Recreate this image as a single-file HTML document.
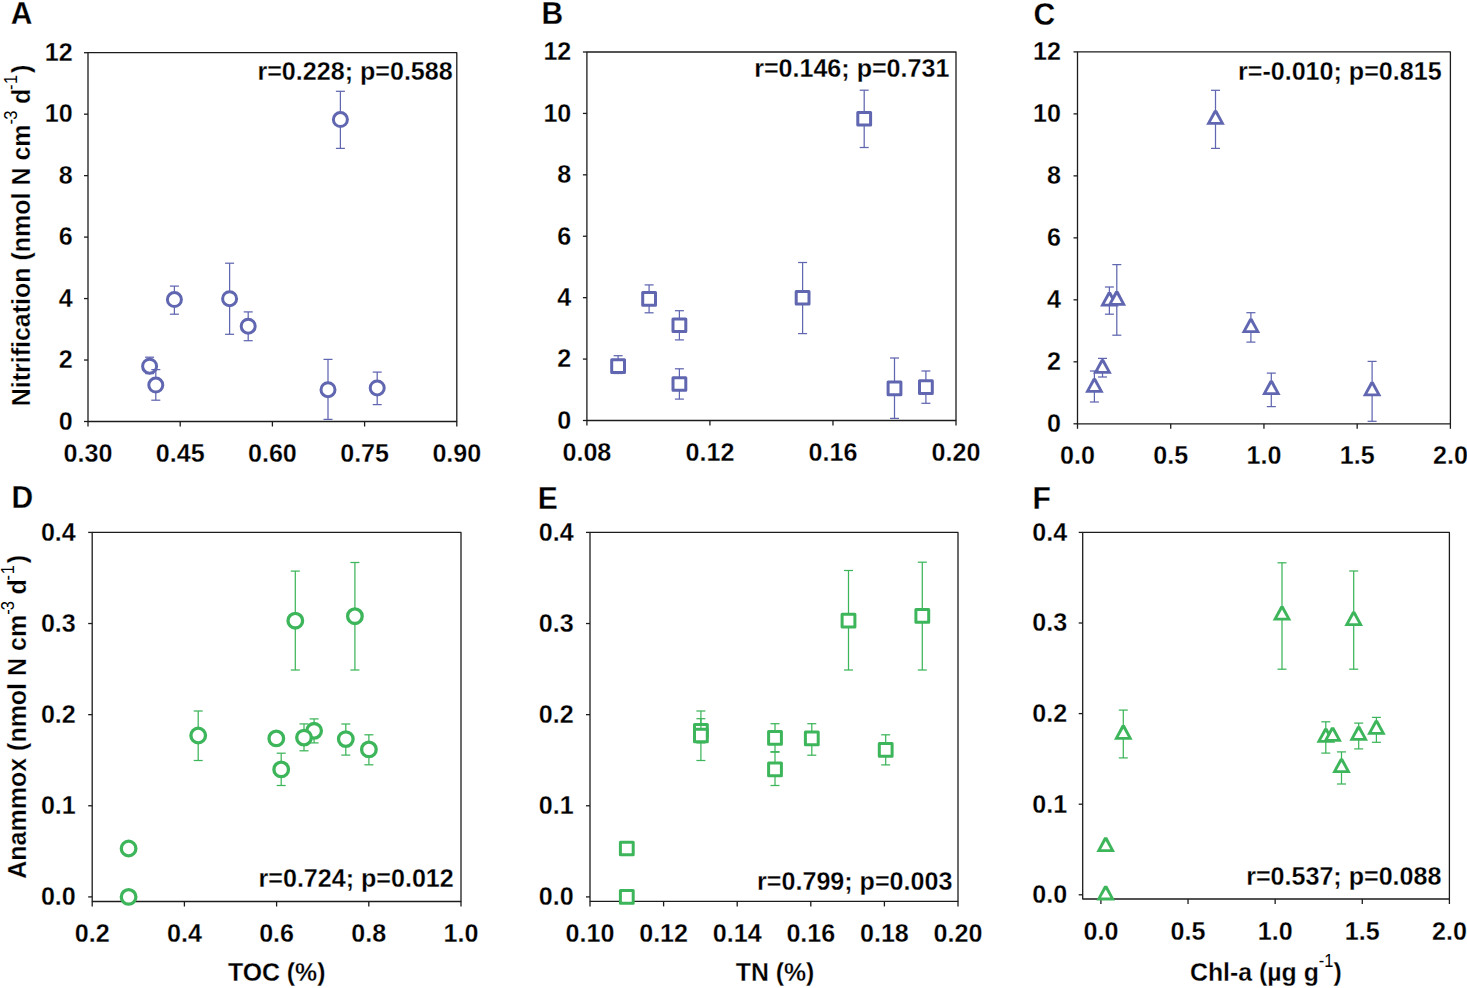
<!DOCTYPE html>
<html><head><meta charset="utf-8"><style>
html,body{margin:0;padding:0;background:#fff;width:1467px;height:988px;overflow:hidden}
svg{display:block;font-family:"Liberation Sans",sans-serif}
text{stroke:#fff;stroke-width:0.25px;paint-order:fill stroke}
</style></head><body>
<svg width="1467" height="988" viewBox="0 0 1467 988" font-family="Liberation Sans">
<rect width="1467" height="988" fill="#fff"/>
<rect x="88" y="52.7" width="368.8" height="368.8" fill="none" stroke="#1c1c1c" stroke-width="1.3" stroke-linejoin="round"/>
<line x1="84" y1="421.5" x2="88" y2="421.5" stroke="#1c1c1c" stroke-width="1.3"/>
<g transform="translate(72.6,429.8) scale(1,1.028)"><text x="0" y="0" font-size="25.1" font-weight="bold" text-anchor="end" fill="#000" >0</text></g>
<line x1="84" y1="360.03" x2="88" y2="360.03" stroke="#1c1c1c" stroke-width="1.3"/>
<g transform="translate(72.6,368.33) scale(1,1.028)"><text x="0" y="0" font-size="25.1" font-weight="bold" text-anchor="end" fill="#000" >2</text></g>
<line x1="84" y1="298.57" x2="88" y2="298.57" stroke="#1c1c1c" stroke-width="1.3"/>
<g transform="translate(72.6,306.87) scale(1,1.028)"><text x="0" y="0" font-size="25.1" font-weight="bold" text-anchor="end" fill="#000" >4</text></g>
<line x1="84" y1="237.1" x2="88" y2="237.1" stroke="#1c1c1c" stroke-width="1.3"/>
<g transform="translate(72.6,245.4) scale(1,1.028)"><text x="0" y="0" font-size="25.1" font-weight="bold" text-anchor="end" fill="#000" >6</text></g>
<line x1="84" y1="175.63" x2="88" y2="175.63" stroke="#1c1c1c" stroke-width="1.3"/>
<g transform="translate(72.6,183.93) scale(1,1.028)"><text x="0" y="0" font-size="25.1" font-weight="bold" text-anchor="end" fill="#000" >8</text></g>
<line x1="84" y1="114.17" x2="88" y2="114.17" stroke="#1c1c1c" stroke-width="1.3"/>
<g transform="translate(72.6,122.47) scale(1,1.028)"><text x="0" y="0" font-size="25.1" font-weight="bold" text-anchor="end" fill="#000" >10</text></g>
<line x1="84" y1="52.7" x2="88" y2="52.7" stroke="#1c1c1c" stroke-width="1.3"/>
<g transform="translate(72.6,61) scale(1,1.028)"><text x="0" y="0" font-size="25.1" font-weight="bold" text-anchor="end" fill="#000" >12</text></g>
<line x1="88" y1="421.5" x2="88" y2="426.5" stroke="#1c1c1c" stroke-width="1.3"/>
<g transform="translate(88,461.8) scale(1,1.028)"><text x="0" y="0" font-size="25.1" font-weight="bold" text-anchor="middle" fill="#000" >0.30</text></g>
<line x1="180.2" y1="421.5" x2="180.2" y2="426.5" stroke="#1c1c1c" stroke-width="1.3"/>
<g transform="translate(180.2,461.8) scale(1,1.028)"><text x="0" y="0" font-size="25.1" font-weight="bold" text-anchor="middle" fill="#000" >0.45</text></g>
<line x1="272.4" y1="421.5" x2="272.4" y2="426.5" stroke="#1c1c1c" stroke-width="1.3"/>
<g transform="translate(272.4,461.8) scale(1,1.028)"><text x="0" y="0" font-size="25.1" font-weight="bold" text-anchor="middle" fill="#000" >0.60</text></g>
<line x1="364.6" y1="421.5" x2="364.6" y2="426.5" stroke="#1c1c1c" stroke-width="1.3"/>
<g transform="translate(364.6,461.8) scale(1,1.028)"><text x="0" y="0" font-size="25.1" font-weight="bold" text-anchor="middle" fill="#000" >0.75</text></g>
<line x1="456.8" y1="421.5" x2="456.8" y2="426.5" stroke="#1c1c1c" stroke-width="1.3"/>
<g transform="translate(456.8,461.8) scale(1,1.028)"><text x="0" y="0" font-size="25.1" font-weight="bold" text-anchor="middle" fill="#000" >0.90</text></g>
<rect x="586.9" y="52" width="369.1" height="368.5" fill="none" stroke="#1c1c1c" stroke-width="1.3" stroke-linejoin="round"/>
<line x1="582.9" y1="420.5" x2="586.9" y2="420.5" stroke="#1c1c1c" stroke-width="1.3"/>
<g transform="translate(571.3,428.8) scale(1,1.028)"><text x="0" y="0" font-size="25.1" font-weight="bold" text-anchor="end" fill="#000" >0</text></g>
<line x1="582.9" y1="359.08" x2="586.9" y2="359.08" stroke="#1c1c1c" stroke-width="1.3"/>
<g transform="translate(571.3,367.38) scale(1,1.028)"><text x="0" y="0" font-size="25.1" font-weight="bold" text-anchor="end" fill="#000" >2</text></g>
<line x1="582.9" y1="297.67" x2="586.9" y2="297.67" stroke="#1c1c1c" stroke-width="1.3"/>
<g transform="translate(571.3,305.97) scale(1,1.028)"><text x="0" y="0" font-size="25.1" font-weight="bold" text-anchor="end" fill="#000" >4</text></g>
<line x1="582.9" y1="236.25" x2="586.9" y2="236.25" stroke="#1c1c1c" stroke-width="1.3"/>
<g transform="translate(571.3,244.55) scale(1,1.028)"><text x="0" y="0" font-size="25.1" font-weight="bold" text-anchor="end" fill="#000" >6</text></g>
<line x1="582.9" y1="174.83" x2="586.9" y2="174.83" stroke="#1c1c1c" stroke-width="1.3"/>
<g transform="translate(571.3,183.13) scale(1,1.028)"><text x="0" y="0" font-size="25.1" font-weight="bold" text-anchor="end" fill="#000" >8</text></g>
<line x1="582.9" y1="113.42" x2="586.9" y2="113.42" stroke="#1c1c1c" stroke-width="1.3"/>
<g transform="translate(571.3,121.72) scale(1,1.028)"><text x="0" y="0" font-size="25.1" font-weight="bold" text-anchor="end" fill="#000" >10</text></g>
<line x1="582.9" y1="52" x2="586.9" y2="52" stroke="#1c1c1c" stroke-width="1.3"/>
<g transform="translate(571.3,60.3) scale(1,1.028)"><text x="0" y="0" font-size="25.1" font-weight="bold" text-anchor="end" fill="#000" >12</text></g>
<line x1="586.9" y1="420.5" x2="586.9" y2="425.5" stroke="#1c1c1c" stroke-width="1.3"/>
<g transform="translate(586.9,461) scale(1,1.028)"><text x="0" y="0" font-size="25.1" font-weight="bold" text-anchor="middle" fill="#000" >0.08</text></g>
<line x1="709.93" y1="420.5" x2="709.93" y2="425.5" stroke="#1c1c1c" stroke-width="1.3"/>
<g transform="translate(709.93,461) scale(1,1.028)"><text x="0" y="0" font-size="25.1" font-weight="bold" text-anchor="middle" fill="#000" >0.12</text></g>
<line x1="832.97" y1="420.5" x2="832.97" y2="425.5" stroke="#1c1c1c" stroke-width="1.3"/>
<g transform="translate(832.97,461) scale(1,1.028)"><text x="0" y="0" font-size="25.1" font-weight="bold" text-anchor="middle" fill="#000" >0.16</text></g>
<line x1="956" y1="420.5" x2="956" y2="425.5" stroke="#1c1c1c" stroke-width="1.3"/>
<g transform="translate(956,461) scale(1,1.028)"><text x="0" y="0" font-size="25.1" font-weight="bold" text-anchor="middle" fill="#000" >0.20</text></g>
<rect x="1077.5" y="51.9" width="372.9" height="371.9" fill="none" stroke="#1c1c1c" stroke-width="1.3" stroke-linejoin="round"/>
<line x1="1073.5" y1="423.8" x2="1077.5" y2="423.8" stroke="#1c1c1c" stroke-width="1.3"/>
<g transform="translate(1060.9,432.1) scale(1,1.028)"><text x="0" y="0" font-size="25.1" font-weight="bold" text-anchor="end" fill="#000" >0</text></g>
<line x1="1073.5" y1="361.82" x2="1077.5" y2="361.82" stroke="#1c1c1c" stroke-width="1.3"/>
<g transform="translate(1060.9,370.12) scale(1,1.028)"><text x="0" y="0" font-size="25.1" font-weight="bold" text-anchor="end" fill="#000" >2</text></g>
<line x1="1073.5" y1="299.83" x2="1077.5" y2="299.83" stroke="#1c1c1c" stroke-width="1.3"/>
<g transform="translate(1060.9,308.13) scale(1,1.028)"><text x="0" y="0" font-size="25.1" font-weight="bold" text-anchor="end" fill="#000" >4</text></g>
<line x1="1073.5" y1="237.85" x2="1077.5" y2="237.85" stroke="#1c1c1c" stroke-width="1.3"/>
<g transform="translate(1060.9,246.15) scale(1,1.028)"><text x="0" y="0" font-size="25.1" font-weight="bold" text-anchor="end" fill="#000" >6</text></g>
<line x1="1073.5" y1="175.87" x2="1077.5" y2="175.87" stroke="#1c1c1c" stroke-width="1.3"/>
<g transform="translate(1060.9,184.17) scale(1,1.028)"><text x="0" y="0" font-size="25.1" font-weight="bold" text-anchor="end" fill="#000" >8</text></g>
<line x1="1073.5" y1="113.88" x2="1077.5" y2="113.88" stroke="#1c1c1c" stroke-width="1.3"/>
<g transform="translate(1060.9,122.18) scale(1,1.028)"><text x="0" y="0" font-size="25.1" font-weight="bold" text-anchor="end" fill="#000" >10</text></g>
<line x1="1073.5" y1="51.9" x2="1077.5" y2="51.9" stroke="#1c1c1c" stroke-width="1.3"/>
<g transform="translate(1060.9,60.2) scale(1,1.028)"><text x="0" y="0" font-size="25.1" font-weight="bold" text-anchor="end" fill="#000" >12</text></g>
<line x1="1077.5" y1="423.8" x2="1077.5" y2="428.8" stroke="#1c1c1c" stroke-width="1.3"/>
<g transform="translate(1077.5,464) scale(1,1.028)"><text x="0" y="0" font-size="25.1" font-weight="bold" text-anchor="middle" fill="#000" >0.0</text></g>
<line x1="1170.72" y1="423.8" x2="1170.72" y2="428.8" stroke="#1c1c1c" stroke-width="1.3"/>
<g transform="translate(1170.72,464) scale(1,1.028)"><text x="0" y="0" font-size="25.1" font-weight="bold" text-anchor="middle" fill="#000" >0.5</text></g>
<line x1="1263.95" y1="423.8" x2="1263.95" y2="428.8" stroke="#1c1c1c" stroke-width="1.3"/>
<g transform="translate(1263.95,464) scale(1,1.028)"><text x="0" y="0" font-size="25.1" font-weight="bold" text-anchor="middle" fill="#000" >1.0</text></g>
<line x1="1357.18" y1="423.8" x2="1357.18" y2="428.8" stroke="#1c1c1c" stroke-width="1.3"/>
<g transform="translate(1357.18,464) scale(1,1.028)"><text x="0" y="0" font-size="25.1" font-weight="bold" text-anchor="middle" fill="#000" >1.5</text></g>
<line x1="1450.4" y1="423.8" x2="1450.4" y2="428.8" stroke="#1c1c1c" stroke-width="1.3"/>
<g transform="translate(1450.4,464) scale(1,1.028)"><text x="0" y="0" font-size="25.1" font-weight="bold" text-anchor="middle" fill="#000" >2.0</text></g>
<rect x="92.2" y="532.4" width="368.8" height="369.1" fill="none" stroke="#1c1c1c" stroke-width="1.3" stroke-linejoin="round"/>
<line x1="88.2" y1="896.9" x2="92.2" y2="896.9" stroke="#1c1c1c" stroke-width="1.3"/>
<g transform="translate(75.8,905.2) scale(1,1.028)"><text x="0" y="0" font-size="25.1" font-weight="bold" text-anchor="end" fill="#000" >0.0</text></g>
<line x1="88.2" y1="805.77" x2="92.2" y2="805.77" stroke="#1c1c1c" stroke-width="1.3"/>
<g transform="translate(75.8,814.07) scale(1,1.028)"><text x="0" y="0" font-size="25.1" font-weight="bold" text-anchor="end" fill="#000" >0.1</text></g>
<line x1="88.2" y1="714.65" x2="92.2" y2="714.65" stroke="#1c1c1c" stroke-width="1.3"/>
<g transform="translate(75.8,722.95) scale(1,1.028)"><text x="0" y="0" font-size="25.1" font-weight="bold" text-anchor="end" fill="#000" >0.2</text></g>
<line x1="88.2" y1="623.53" x2="92.2" y2="623.53" stroke="#1c1c1c" stroke-width="1.3"/>
<g transform="translate(75.8,631.83) scale(1,1.028)"><text x="0" y="0" font-size="25.1" font-weight="bold" text-anchor="end" fill="#000" >0.3</text></g>
<line x1="88.2" y1="532.4" x2="92.2" y2="532.4" stroke="#1c1c1c" stroke-width="1.3"/>
<g transform="translate(75.8,540.7) scale(1,1.028)"><text x="0" y="0" font-size="25.1" font-weight="bold" text-anchor="end" fill="#000" >0.4</text></g>
<line x1="92.2" y1="901.5" x2="92.2" y2="906.5" stroke="#1c1c1c" stroke-width="1.3"/>
<g transform="translate(92.2,942) scale(1,1.028)"><text x="0" y="0" font-size="25.1" font-weight="bold" text-anchor="middle" fill="#000" >0.2</text></g>
<line x1="184.4" y1="901.5" x2="184.4" y2="906.5" stroke="#1c1c1c" stroke-width="1.3"/>
<g transform="translate(184.4,942) scale(1,1.028)"><text x="0" y="0" font-size="25.1" font-weight="bold" text-anchor="middle" fill="#000" >0.4</text></g>
<line x1="276.6" y1="901.5" x2="276.6" y2="906.5" stroke="#1c1c1c" stroke-width="1.3"/>
<g transform="translate(276.6,942) scale(1,1.028)"><text x="0" y="0" font-size="25.1" font-weight="bold" text-anchor="middle" fill="#000" >0.6</text></g>
<line x1="368.8" y1="901.5" x2="368.8" y2="906.5" stroke="#1c1c1c" stroke-width="1.3"/>
<g transform="translate(368.8,942) scale(1,1.028)"><text x="0" y="0" font-size="25.1" font-weight="bold" text-anchor="middle" fill="#000" >0.8</text></g>
<line x1="461" y1="901.5" x2="461" y2="906.5" stroke="#1c1c1c" stroke-width="1.3"/>
<g transform="translate(461,942) scale(1,1.028)"><text x="0" y="0" font-size="25.1" font-weight="bold" text-anchor="middle" fill="#000" >1.0</text></g>
<rect x="590" y="532.4" width="368" height="369" fill="none" stroke="#1c1c1c" stroke-width="1.3" stroke-linejoin="round"/>
<line x1="586" y1="896.9" x2="590" y2="896.9" stroke="#1c1c1c" stroke-width="1.3"/>
<g transform="translate(573.7,905.2) scale(1,1.028)"><text x="0" y="0" font-size="25.1" font-weight="bold" text-anchor="end" fill="#000" >0.0</text></g>
<line x1="586" y1="805.77" x2="590" y2="805.77" stroke="#1c1c1c" stroke-width="1.3"/>
<g transform="translate(573.7,814.07) scale(1,1.028)"><text x="0" y="0" font-size="25.1" font-weight="bold" text-anchor="end" fill="#000" >0.1</text></g>
<line x1="586" y1="714.65" x2="590" y2="714.65" stroke="#1c1c1c" stroke-width="1.3"/>
<g transform="translate(573.7,722.95) scale(1,1.028)"><text x="0" y="0" font-size="25.1" font-weight="bold" text-anchor="end" fill="#000" >0.2</text></g>
<line x1="586" y1="623.53" x2="590" y2="623.53" stroke="#1c1c1c" stroke-width="1.3"/>
<g transform="translate(573.7,631.83) scale(1,1.028)"><text x="0" y="0" font-size="25.1" font-weight="bold" text-anchor="end" fill="#000" >0.3</text></g>
<line x1="586" y1="532.4" x2="590" y2="532.4" stroke="#1c1c1c" stroke-width="1.3"/>
<g transform="translate(573.7,540.7) scale(1,1.028)"><text x="0" y="0" font-size="25.1" font-weight="bold" text-anchor="end" fill="#000" >0.4</text></g>
<line x1="590" y1="901.4" x2="590" y2="906.4" stroke="#1c1c1c" stroke-width="1.3"/>
<g transform="translate(590,942) scale(1,1.028)"><text x="0" y="0" font-size="25.1" font-weight="bold" text-anchor="middle" fill="#000" >0.10</text></g>
<line x1="663.6" y1="901.4" x2="663.6" y2="906.4" stroke="#1c1c1c" stroke-width="1.3"/>
<g transform="translate(663.6,942) scale(1,1.028)"><text x="0" y="0" font-size="25.1" font-weight="bold" text-anchor="middle" fill="#000" >0.12</text></g>
<line x1="737.2" y1="901.4" x2="737.2" y2="906.4" stroke="#1c1c1c" stroke-width="1.3"/>
<g transform="translate(737.2,942) scale(1,1.028)"><text x="0" y="0" font-size="25.1" font-weight="bold" text-anchor="middle" fill="#000" >0.14</text></g>
<line x1="810.8" y1="901.4" x2="810.8" y2="906.4" stroke="#1c1c1c" stroke-width="1.3"/>
<g transform="translate(810.8,942) scale(1,1.028)"><text x="0" y="0" font-size="25.1" font-weight="bold" text-anchor="middle" fill="#000" >0.16</text></g>
<line x1="884.4" y1="901.4" x2="884.4" y2="906.4" stroke="#1c1c1c" stroke-width="1.3"/>
<g transform="translate(884.4,942) scale(1,1.028)"><text x="0" y="0" font-size="25.1" font-weight="bold" text-anchor="middle" fill="#000" >0.18</text></g>
<line x1="958" y1="901.4" x2="958" y2="906.4" stroke="#1c1c1c" stroke-width="1.3"/>
<g transform="translate(958,942) scale(1,1.028)"><text x="0" y="0" font-size="25.1" font-weight="bold" text-anchor="middle" fill="#000" >0.20</text></g>
<rect x="1082.7" y="532.4" width="366.7" height="366.6" fill="none" stroke="#1c1c1c" stroke-width="1.3" stroke-linejoin="round"/>
<line x1="1078.7" y1="894.8" x2="1082.7" y2="894.8" stroke="#1c1c1c" stroke-width="1.3"/>
<g transform="translate(1067.1,903.1) scale(1,1.028)"><text x="0" y="0" font-size="25.1" font-weight="bold" text-anchor="end" fill="#000" >0.0</text></g>
<line x1="1078.7" y1="804.2" x2="1082.7" y2="804.2" stroke="#1c1c1c" stroke-width="1.3"/>
<g transform="translate(1067.1,812.5) scale(1,1.028)"><text x="0" y="0" font-size="25.1" font-weight="bold" text-anchor="end" fill="#000" >0.1</text></g>
<line x1="1078.7" y1="713.6" x2="1082.7" y2="713.6" stroke="#1c1c1c" stroke-width="1.3"/>
<g transform="translate(1067.1,721.9) scale(1,1.028)"><text x="0" y="0" font-size="25.1" font-weight="bold" text-anchor="end" fill="#000" >0.2</text></g>
<line x1="1078.7" y1="623" x2="1082.7" y2="623" stroke="#1c1c1c" stroke-width="1.3"/>
<g transform="translate(1067.1,631.3) scale(1,1.028)"><text x="0" y="0" font-size="25.1" font-weight="bold" text-anchor="end" fill="#000" >0.3</text></g>
<line x1="1078.7" y1="532.4" x2="1082.7" y2="532.4" stroke="#1c1c1c" stroke-width="1.3"/>
<g transform="translate(1067.1,540.7) scale(1,1.028)"><text x="0" y="0" font-size="25.1" font-weight="bold" text-anchor="end" fill="#000" >0.4</text></g>
<line x1="1100.9" y1="899" x2="1100.9" y2="904" stroke="#1c1c1c" stroke-width="1.3"/>
<g transform="translate(1100.9,939.6) scale(1,1.028)"><text x="0" y="0" font-size="25.1" font-weight="bold" text-anchor="middle" fill="#000" >0.0</text></g>
<line x1="1188.03" y1="899" x2="1188.03" y2="904" stroke="#1c1c1c" stroke-width="1.3"/>
<g transform="translate(1188.03,939.6) scale(1,1.028)"><text x="0" y="0" font-size="25.1" font-weight="bold" text-anchor="middle" fill="#000" >0.5</text></g>
<line x1="1275.15" y1="899" x2="1275.15" y2="904" stroke="#1c1c1c" stroke-width="1.3"/>
<g transform="translate(1275.15,939.6) scale(1,1.028)"><text x="0" y="0" font-size="25.1" font-weight="bold" text-anchor="middle" fill="#000" >1.0</text></g>
<line x1="1362.28" y1="899" x2="1362.28" y2="904" stroke="#1c1c1c" stroke-width="1.3"/>
<g transform="translate(1362.28,939.6) scale(1,1.028)"><text x="0" y="0" font-size="25.1" font-weight="bold" text-anchor="middle" fill="#000" >1.5</text></g>
<line x1="1449.4" y1="899" x2="1449.4" y2="904" stroke="#1c1c1c" stroke-width="1.3"/>
<g transform="translate(1449.4,939.6) scale(1,1.028)"><text x="0" y="0" font-size="25.1" font-weight="bold" text-anchor="middle" fill="#000" >2.0</text></g>
<g transform="translate(10.8,24.1) scale(1,1.02)"><text x="0" y="0" font-size="30.0" font-weight="bold" text-anchor="start" fill="#000" >A</text></g>
<g transform="translate(541.6,24.3) scale(1,1.02)"><text x="0" y="0" font-size="30.0" font-weight="bold" text-anchor="start" fill="#000" >B</text></g>
<g transform="translate(1033.4,24.5) scale(1,1.02)"><text x="0" y="0" font-size="30.0" font-weight="bold" text-anchor="start" fill="#000" >C</text></g>
<g transform="translate(11.4,508.3) scale(1,1.02)"><text x="0" y="0" font-size="30.0" font-weight="bold" text-anchor="start" fill="#000" >D</text></g>
<g transform="translate(537.7,508.6) scale(1,1.02)"><text x="0" y="0" font-size="30.0" font-weight="bold" text-anchor="start" fill="#000" >E</text></g>
<g transform="translate(1032.6,508.8) scale(1,1.02)"><text x="0" y="0" font-size="30.0" font-weight="bold" text-anchor="start" fill="#000" >F</text></g>
<g transform="translate(257.46,80.1) scale(1,1.028)"><text x="0" y="0" font-size="25.1" font-weight="bold" text-anchor="start" fill="#000" >r=0.228; p=0.588</text></g>
<g transform="translate(754.13,76.9) scale(1,1.028)"><text x="0" y="0" font-size="25.1" font-weight="bold" text-anchor="start" fill="#000" >r=0.146; p=0.731</text></g>
<g transform="translate(1237.99,79.9) scale(1,1.028)"><text x="0" y="0" font-size="25.1" font-weight="bold" text-anchor="start" fill="#000" >r=-0.010; p=0.815</text></g>
<g transform="translate(258.53,887.2) scale(1,1.028)"><text x="0" y="0" font-size="25.1" font-weight="bold" text-anchor="start" fill="#000" >r=0.724; p=0.012</text></g>
<g transform="translate(757.11,890.4) scale(1,1.028)"><text x="0" y="0" font-size="25.1" font-weight="bold" text-anchor="start" fill="#000" >r=0.799; p=0.003</text></g>
<g transform="translate(1246.16,885.4) scale(1,1.028)"><text x="0" y="0" font-size="25.1" font-weight="bold" text-anchor="start" fill="#000" >r=0.537; p=0.088</text></g>
<g transform="translate(227.95,980.7) scale(1,1.06)"><text x="0" y="0" font-size="24.85" font-weight="bold" text-anchor="start" fill="#000" >TOC (%)</text></g>
<g transform="translate(735.75,980.7) scale(1,1.06)"><text x="0" y="0" font-size="24.85" font-weight="bold" text-anchor="start" fill="#000" >TN (%)</text></g>
<g transform="translate(1190.01,980.7) scale(1,1.06)"><text x="0" y="0" font-size="24.85" font-weight="bold">Chl-a (µg g<tspan stroke="none" font-weight="normal" font-size="16.5" dy="-12.6">-1</tspan><tspan dy="12.6">)</tspan></text></g>
<g transform="translate(29.6,406.3) rotate(-90) scale(1,1.06)"><text x="0" y="0" font-size="25.0" font-weight="bold">Nitrification (nmol N cm<tspan stroke="none" font-weight="normal" font-size="16.5" dy="-11.5" letter-spacing="-0.9">-3</tspan><tspan dy="11.5" dx="0.6"> d</tspan><tspan stroke="none" font-weight="normal" font-size="16.5" dy="-11.5" dx="-1.2" letter-spacing="0.6">-1</tspan><tspan dy="11.5" dx="1.2">)</tspan></text></g>
<g transform="translate(26.3,878.7) rotate(-90) scale(1,1.06)"><text x="0" y="0" font-size="25.0" font-weight="bold">Anammox (nmol N cm<tspan stroke="none" font-weight="normal" font-size="16.5" dy="-11.5" letter-spacing="-0.9">-3</tspan><tspan dy="11.5" dx="0.6"> d</tspan><tspan stroke="none" font-weight="normal" font-size="16.5" dy="-11.5" dx="-1.2" letter-spacing="0.6">-1</tspan><tspan dy="11.5" dx="1.2">)</tspan></text></g>
<line x1="174.4" y1="286.1" x2="174.4" y2="292.6" stroke="#6066b0" stroke-width="1.25"/>
<line x1="169.9" y1="286.1" x2="178.9" y2="286.1" stroke="#6066b0" stroke-width="1.25"/>
<line x1="174.4" y1="306.6" x2="174.4" y2="314.2" stroke="#6066b0" stroke-width="1.25"/>
<line x1="169.9" y1="314.2" x2="178.9" y2="314.2" stroke="#6066b0" stroke-width="1.25"/>
<circle cx="174.4" cy="299.6" r="7.0" fill="#fff" stroke="#6066b0" stroke-width="3.0"/>
<line x1="229.6" y1="263.2" x2="229.6" y2="291.7" stroke="#6066b0" stroke-width="1.25"/>
<line x1="225.1" y1="263.2" x2="234.1" y2="263.2" stroke="#6066b0" stroke-width="1.25"/>
<line x1="229.6" y1="305.7" x2="229.6" y2="334.3" stroke="#6066b0" stroke-width="1.25"/>
<line x1="225.1" y1="334.3" x2="234.1" y2="334.3" stroke="#6066b0" stroke-width="1.25"/>
<circle cx="229.6" cy="298.7" r="7.0" fill="#fff" stroke="#6066b0" stroke-width="3.0"/>
<line x1="248.2" y1="311.9" x2="248.2" y2="319.2" stroke="#6066b0" stroke-width="1.25"/>
<line x1="243.7" y1="311.9" x2="252.7" y2="311.9" stroke="#6066b0" stroke-width="1.25"/>
<line x1="248.2" y1="333.2" x2="248.2" y2="340.7" stroke="#6066b0" stroke-width="1.25"/>
<line x1="243.7" y1="340.7" x2="252.7" y2="340.7" stroke="#6066b0" stroke-width="1.25"/>
<circle cx="248.2" cy="326.2" r="7.0" fill="#fff" stroke="#6066b0" stroke-width="3.0"/>
<line x1="149.6" y1="357.2" x2="149.6" y2="359.2" stroke="#6066b0" stroke-width="1.25"/>
<line x1="145.1" y1="357.2" x2="154.1" y2="357.2" stroke="#6066b0" stroke-width="1.25"/>
<line x1="149.6" y1="373.2" x2="149.6" y2="373.6" stroke="#6066b0" stroke-width="1.25"/>
<line x1="145.1" y1="373.6" x2="154.1" y2="373.6" stroke="#6066b0" stroke-width="1.25"/>
<circle cx="149.6" cy="366.2" r="7.0" fill="#fff" stroke="#6066b0" stroke-width="3.0"/>
<line x1="155.8" y1="369.6" x2="155.8" y2="378.1" stroke="#6066b0" stroke-width="1.25"/>
<line x1="151.3" y1="369.6" x2="160.3" y2="369.6" stroke="#6066b0" stroke-width="1.25"/>
<line x1="155.8" y1="392.1" x2="155.8" y2="400.2" stroke="#6066b0" stroke-width="1.25"/>
<line x1="151.3" y1="400.2" x2="160.3" y2="400.2" stroke="#6066b0" stroke-width="1.25"/>
<circle cx="155.8" cy="385.1" r="7.0" fill="#fff" stroke="#6066b0" stroke-width="3.0"/>
<line x1="328" y1="359.4" x2="328" y2="382.7" stroke="#6066b0" stroke-width="1.25"/>
<line x1="323.5" y1="359.4" x2="332.5" y2="359.4" stroke="#6066b0" stroke-width="1.25"/>
<line x1="328" y1="396.7" x2="328" y2="419.4" stroke="#6066b0" stroke-width="1.25"/>
<line x1="323.5" y1="419.4" x2="332.5" y2="419.4" stroke="#6066b0" stroke-width="1.25"/>
<circle cx="328" cy="389.7" r="7.0" fill="#fff" stroke="#6066b0" stroke-width="3.0"/>
<line x1="377.2" y1="372.1" x2="377.2" y2="380.9" stroke="#6066b0" stroke-width="1.25"/>
<line x1="372.7" y1="372.1" x2="381.7" y2="372.1" stroke="#6066b0" stroke-width="1.25"/>
<line x1="377.2" y1="394.9" x2="377.2" y2="404.6" stroke="#6066b0" stroke-width="1.25"/>
<line x1="372.7" y1="404.6" x2="381.7" y2="404.6" stroke="#6066b0" stroke-width="1.25"/>
<circle cx="377.2" cy="387.9" r="7.0" fill="#fff" stroke="#6066b0" stroke-width="3.0"/>
<line x1="340.4" y1="91.3" x2="340.4" y2="112.6" stroke="#6066b0" stroke-width="1.25"/>
<line x1="335.9" y1="91.3" x2="344.9" y2="91.3" stroke="#6066b0" stroke-width="1.25"/>
<line x1="340.4" y1="126.6" x2="340.4" y2="148.4" stroke="#6066b0" stroke-width="1.25"/>
<line x1="335.9" y1="148.4" x2="344.9" y2="148.4" stroke="#6066b0" stroke-width="1.25"/>
<circle cx="340.4" cy="119.6" r="7.0" fill="#fff" stroke="#6066b0" stroke-width="3.0"/>
<line x1="649.1" y1="284.9" x2="649.1" y2="292.6" stroke="#6066b0" stroke-width="1.25"/>
<line x1="644.6" y1="284.9" x2="653.6" y2="284.9" stroke="#6066b0" stroke-width="1.25"/>
<line x1="649.1" y1="305.2" x2="649.1" y2="312.8" stroke="#6066b0" stroke-width="1.25"/>
<line x1="644.6" y1="312.8" x2="653.6" y2="312.8" stroke="#6066b0" stroke-width="1.25"/>
<rect x="642.7" y="292.6" width="12.8" height="12.6" fill="#fff" stroke="#6066b0" stroke-width="3.0" stroke-linejoin="round"/>
<line x1="679.4" y1="310.7" x2="679.4" y2="318.9" stroke="#6066b0" stroke-width="1.25"/>
<line x1="674.9" y1="310.7" x2="683.9" y2="310.7" stroke="#6066b0" stroke-width="1.25"/>
<line x1="679.4" y1="331.5" x2="679.4" y2="339.9" stroke="#6066b0" stroke-width="1.25"/>
<line x1="674.9" y1="339.9" x2="683.9" y2="339.9" stroke="#6066b0" stroke-width="1.25"/>
<rect x="673" y="318.9" width="12.8" height="12.6" fill="#fff" stroke="#6066b0" stroke-width="3.0" stroke-linejoin="round"/>
<line x1="618.1" y1="355.7" x2="618.1" y2="359.8" stroke="#6066b0" stroke-width="1.25"/>
<line x1="613.6" y1="355.7" x2="622.6" y2="355.7" stroke="#6066b0" stroke-width="1.25"/>
<line x1="618.1" y1="372.4" x2="618.1" y2="373.5" stroke="#6066b0" stroke-width="1.25"/>
<line x1="613.6" y1="373.5" x2="622.6" y2="373.5" stroke="#6066b0" stroke-width="1.25"/>
<rect x="611.7" y="359.8" width="12.8" height="12.6" fill="#fff" stroke="#6066b0" stroke-width="3.0" stroke-linejoin="round"/>
<line x1="679.4" y1="368.8" x2="679.4" y2="377.7" stroke="#6066b0" stroke-width="1.25"/>
<line x1="674.9" y1="368.8" x2="683.9" y2="368.8" stroke="#6066b0" stroke-width="1.25"/>
<line x1="679.4" y1="390.3" x2="679.4" y2="399.1" stroke="#6066b0" stroke-width="1.25"/>
<line x1="674.9" y1="399.1" x2="683.9" y2="399.1" stroke="#6066b0" stroke-width="1.25"/>
<rect x="673" y="377.7" width="12.8" height="12.6" fill="#fff" stroke="#6066b0" stroke-width="3.0" stroke-linejoin="round"/>
<line x1="802.6" y1="262.5" x2="802.6" y2="291.5" stroke="#6066b0" stroke-width="1.25"/>
<line x1="798.1" y1="262.5" x2="807.1" y2="262.5" stroke="#6066b0" stroke-width="1.25"/>
<line x1="802.6" y1="304.1" x2="802.6" y2="333.6" stroke="#6066b0" stroke-width="1.25"/>
<line x1="798.1" y1="333.6" x2="807.1" y2="333.6" stroke="#6066b0" stroke-width="1.25"/>
<rect x="796.2" y="291.5" width="12.8" height="12.6" fill="#fff" stroke="#6066b0" stroke-width="3.0" stroke-linejoin="round"/>
<line x1="864.2" y1="90.2" x2="864.2" y2="112.4" stroke="#6066b0" stroke-width="1.25"/>
<line x1="859.7" y1="90.2" x2="868.7" y2="90.2" stroke="#6066b0" stroke-width="1.25"/>
<line x1="864.2" y1="125" x2="864.2" y2="147.5" stroke="#6066b0" stroke-width="1.25"/>
<line x1="859.7" y1="147.5" x2="868.7" y2="147.5" stroke="#6066b0" stroke-width="1.25"/>
<rect x="857.8" y="112.4" width="12.8" height="12.6" fill="#fff" stroke="#6066b0" stroke-width="3.0" stroke-linejoin="round"/>
<line x1="894.5" y1="358" x2="894.5" y2="382.1" stroke="#6066b0" stroke-width="1.25"/>
<line x1="890" y1="358" x2="899" y2="358" stroke="#6066b0" stroke-width="1.25"/>
<line x1="894.5" y1="394.7" x2="894.5" y2="418.4" stroke="#6066b0" stroke-width="1.25"/>
<line x1="890" y1="418.4" x2="899" y2="418.4" stroke="#6066b0" stroke-width="1.25"/>
<rect x="888.1" y="382.1" width="12.8" height="12.6" fill="#fff" stroke="#6066b0" stroke-width="3.0" stroke-linejoin="round"/>
<line x1="925.9" y1="371" x2="925.9" y2="380.8" stroke="#6066b0" stroke-width="1.25"/>
<line x1="921.4" y1="371" x2="930.4" y2="371" stroke="#6066b0" stroke-width="1.25"/>
<line x1="925.9" y1="393.4" x2="925.9" y2="403.3" stroke="#6066b0" stroke-width="1.25"/>
<line x1="921.4" y1="403.3" x2="930.4" y2="403.3" stroke="#6066b0" stroke-width="1.25"/>
<rect x="919.5" y="380.8" width="12.8" height="12.6" fill="#fff" stroke="#6066b0" stroke-width="3.0" stroke-linejoin="round"/>
<line x1="1109.4" y1="287" x2="1109.4" y2="294.5" stroke="#6066b0" stroke-width="1.25"/>
<line x1="1104.9" y1="287" x2="1113.9" y2="287" stroke="#6066b0" stroke-width="1.25"/>
<line x1="1109.4" y1="304.5" x2="1109.4" y2="314.2" stroke="#6066b0" stroke-width="1.25"/>
<line x1="1104.9" y1="314.2" x2="1113.9" y2="314.2" stroke="#6066b0" stroke-width="1.25"/>
<path d="M1100.1,306.5 L1118.7,306.5 L1110.9,291.9 L1107.9,291.9 Z" fill="#6066b0"/><path d="M1104.8,303.7 L1109.4,295.5 L1114,303.7 Z" fill="#fff"/>
<line x1="1116.8" y1="264.6" x2="1116.8" y2="293.7" stroke="#6066b0" stroke-width="1.25"/>
<line x1="1112.3" y1="264.6" x2="1121.3" y2="264.6" stroke="#6066b0" stroke-width="1.25"/>
<line x1="1116.8" y1="303.7" x2="1116.8" y2="335.2" stroke="#6066b0" stroke-width="1.25"/>
<line x1="1112.3" y1="335.2" x2="1121.3" y2="335.2" stroke="#6066b0" stroke-width="1.25"/>
<path d="M1107.5,305.7 L1126.1,305.7 L1118.3,291.1 L1115.3,291.1 Z" fill="#6066b0"/><path d="M1112.2,302.9 L1116.8,294.7 L1121.4,302.9 Z" fill="#fff"/>
<line x1="1102.5" y1="358.4" x2="1102.5" y2="361.75" stroke="#6066b0" stroke-width="1.25"/>
<line x1="1098" y1="358.4" x2="1107" y2="358.4" stroke="#6066b0" stroke-width="1.25"/>
<line x1="1102.5" y1="371.75" x2="1102.5" y2="377" stroke="#6066b0" stroke-width="1.25"/>
<line x1="1098" y1="377" x2="1107" y2="377" stroke="#6066b0" stroke-width="1.25"/>
<path d="M1093.2,373.75 L1111.8,373.75 L1104,359.15 L1101,359.15 Z" fill="#6066b0"/><path d="M1097.9,370.95 L1102.5,362.75 L1107.1,370.95 Z" fill="#fff"/>
<line x1="1094.4" y1="371" x2="1094.4" y2="380.8" stroke="#6066b0" stroke-width="1.25"/>
<line x1="1089.9" y1="371" x2="1098.9" y2="371" stroke="#6066b0" stroke-width="1.25"/>
<line x1="1094.4" y1="390.8" x2="1094.4" y2="402" stroke="#6066b0" stroke-width="1.25"/>
<line x1="1089.9" y1="402" x2="1098.9" y2="402" stroke="#6066b0" stroke-width="1.25"/>
<path d="M1085.1,392.8 L1103.7,392.8 L1095.9,378.2 L1092.9,378.2 Z" fill="#6066b0"/><path d="M1089.8,390 L1094.4,381.8 L1099,390 Z" fill="#fff"/>
<line x1="1215.5" y1="90.3" x2="1215.5" y2="112.75" stroke="#6066b0" stroke-width="1.25"/>
<line x1="1211" y1="90.3" x2="1220" y2="90.3" stroke="#6066b0" stroke-width="1.25"/>
<line x1="1215.5" y1="122.75" x2="1215.5" y2="148.4" stroke="#6066b0" stroke-width="1.25"/>
<line x1="1211" y1="148.4" x2="1220" y2="148.4" stroke="#6066b0" stroke-width="1.25"/>
<path d="M1206.2,124.75 L1224.8,124.75 L1217,110.15 L1214,110.15 Z" fill="#6066b0"/><path d="M1210.9,121.95 L1215.5,113.75 L1220.1,121.95 Z" fill="#fff"/>
<line x1="1250.9" y1="312.7" x2="1250.9" y2="321.05" stroke="#6066b0" stroke-width="1.25"/>
<line x1="1246.4" y1="312.7" x2="1255.4" y2="312.7" stroke="#6066b0" stroke-width="1.25"/>
<line x1="1250.9" y1="331.05" x2="1250.9" y2="342.1" stroke="#6066b0" stroke-width="1.25"/>
<line x1="1246.4" y1="342.1" x2="1255.4" y2="342.1" stroke="#6066b0" stroke-width="1.25"/>
<path d="M1241.6,333.05 L1260.2,333.05 L1252.4,318.45 L1249.4,318.45 Z" fill="#6066b0"/><path d="M1246.3,330.25 L1250.9,322.05 L1255.5,330.25 Z" fill="#fff"/>
<line x1="1271.3" y1="373.1" x2="1271.3" y2="383.1" stroke="#6066b0" stroke-width="1.25"/>
<line x1="1266.8" y1="373.1" x2="1275.8" y2="373.1" stroke="#6066b0" stroke-width="1.25"/>
<line x1="1271.3" y1="393.1" x2="1271.3" y2="406.6" stroke="#6066b0" stroke-width="1.25"/>
<line x1="1266.8" y1="406.6" x2="1275.8" y2="406.6" stroke="#6066b0" stroke-width="1.25"/>
<path d="M1262,395.1 L1280.6,395.1 L1272.8,380.5 L1269.8,380.5 Z" fill="#6066b0"/><path d="M1266.7,392.3 L1271.3,384.1 L1275.9,392.3 Z" fill="#fff"/>
<line x1="1372.1" y1="361.4" x2="1372.1" y2="384.25" stroke="#6066b0" stroke-width="1.25"/>
<line x1="1367.6" y1="361.4" x2="1376.6" y2="361.4" stroke="#6066b0" stroke-width="1.25"/>
<line x1="1372.1" y1="394.25" x2="1372.1" y2="421.3" stroke="#6066b0" stroke-width="1.25"/>
<line x1="1367.6" y1="421.3" x2="1376.6" y2="421.3" stroke="#6066b0" stroke-width="1.25"/>
<path d="M1362.8,396.25 L1381.4,396.25 L1373.6,381.65 L1370.6,381.65 Z" fill="#6066b0"/><path d="M1367.5,393.45 L1372.1,385.25 L1376.7,393.45 Z" fill="#fff"/>
<circle cx="128.6" cy="848.5" r="7.3" fill="#fff" stroke="#3db55a" stroke-width="3.3"/>
<circle cx="128.6" cy="896.9" r="7.3" fill="#fff" stroke="#3db55a" stroke-width="3.3"/>
<line x1="198.2" y1="711" x2="198.2" y2="728.2" stroke="#3db55a" stroke-width="1.25"/>
<line x1="193.7" y1="711" x2="202.7" y2="711" stroke="#3db55a" stroke-width="1.25"/>
<line x1="198.2" y1="742.8" x2="198.2" y2="760.5" stroke="#3db55a" stroke-width="1.25"/>
<line x1="193.7" y1="760.5" x2="202.7" y2="760.5" stroke="#3db55a" stroke-width="1.25"/>
<circle cx="198.2" cy="735.5" r="7.3" fill="#fff" stroke="#3db55a" stroke-width="3.3"/>
<circle cx="276.3" cy="738.4" r="7.3" fill="#fff" stroke="#3db55a" stroke-width="3.3"/>
<line x1="281.2" y1="753.2" x2="281.2" y2="762.1" stroke="#3db55a" stroke-width="1.25"/>
<line x1="276.7" y1="753.2" x2="285.7" y2="753.2" stroke="#3db55a" stroke-width="1.25"/>
<line x1="281.2" y1="776.7" x2="281.2" y2="785.5" stroke="#3db55a" stroke-width="1.25"/>
<line x1="276.7" y1="785.5" x2="285.7" y2="785.5" stroke="#3db55a" stroke-width="1.25"/>
<circle cx="281.2" cy="769.4" r="7.3" fill="#fff" stroke="#3db55a" stroke-width="3.3"/>
<line x1="295.3" y1="571.1" x2="295.3" y2="613.4" stroke="#3db55a" stroke-width="1.25"/>
<line x1="290.8" y1="571.1" x2="299.8" y2="571.1" stroke="#3db55a" stroke-width="1.25"/>
<line x1="295.3" y1="628" x2="295.3" y2="670" stroke="#3db55a" stroke-width="1.25"/>
<line x1="290.8" y1="670" x2="299.8" y2="670" stroke="#3db55a" stroke-width="1.25"/>
<circle cx="295.3" cy="620.7" r="7.3" fill="#fff" stroke="#3db55a" stroke-width="3.3"/>
<line x1="314.1" y1="718.9" x2="314.1" y2="723.5" stroke="#3db55a" stroke-width="1.25"/>
<line x1="309.6" y1="718.9" x2="318.6" y2="718.9" stroke="#3db55a" stroke-width="1.25"/>
<line x1="314.1" y1="738.1" x2="314.1" y2="742.9" stroke="#3db55a" stroke-width="1.25"/>
<line x1="309.6" y1="742.9" x2="318.6" y2="742.9" stroke="#3db55a" stroke-width="1.25"/>
<circle cx="314.1" cy="730.8" r="7.3" fill="#fff" stroke="#3db55a" stroke-width="3.3"/>
<line x1="304" y1="723.9" x2="304" y2="730.3" stroke="#3db55a" stroke-width="1.25"/>
<line x1="299.5" y1="723.9" x2="308.5" y2="723.9" stroke="#3db55a" stroke-width="1.25"/>
<line x1="304" y1="744.9" x2="304" y2="750.8" stroke="#3db55a" stroke-width="1.25"/>
<line x1="299.5" y1="750.8" x2="308.5" y2="750.8" stroke="#3db55a" stroke-width="1.25"/>
<circle cx="304" cy="737.6" r="7.3" fill="#fff" stroke="#3db55a" stroke-width="3.3"/>
<line x1="345.8" y1="724" x2="345.8" y2="731.8" stroke="#3db55a" stroke-width="1.25"/>
<line x1="341.3" y1="724" x2="350.3" y2="724" stroke="#3db55a" stroke-width="1.25"/>
<line x1="345.8" y1="746.4" x2="345.8" y2="755.1" stroke="#3db55a" stroke-width="1.25"/>
<line x1="341.3" y1="755.1" x2="350.3" y2="755.1" stroke="#3db55a" stroke-width="1.25"/>
<circle cx="345.8" cy="739.1" r="7.3" fill="#fff" stroke="#3db55a" stroke-width="3.3"/>
<line x1="354.9" y1="562.5" x2="354.9" y2="608.9" stroke="#3db55a" stroke-width="1.25"/>
<line x1="350.4" y1="562.5" x2="359.4" y2="562.5" stroke="#3db55a" stroke-width="1.25"/>
<line x1="354.9" y1="623.5" x2="354.9" y2="670" stroke="#3db55a" stroke-width="1.25"/>
<line x1="350.4" y1="670" x2="359.4" y2="670" stroke="#3db55a" stroke-width="1.25"/>
<circle cx="354.9" cy="616.2" r="7.3" fill="#fff" stroke="#3db55a" stroke-width="3.3"/>
<line x1="368.9" y1="734.8" x2="368.9" y2="742.1" stroke="#3db55a" stroke-width="1.25"/>
<line x1="364.4" y1="734.8" x2="373.4" y2="734.8" stroke="#3db55a" stroke-width="1.25"/>
<line x1="368.9" y1="756.7" x2="368.9" y2="764.8" stroke="#3db55a" stroke-width="1.25"/>
<line x1="364.4" y1="764.8" x2="373.4" y2="764.8" stroke="#3db55a" stroke-width="1.25"/>
<circle cx="368.9" cy="749.4" r="7.3" fill="#fff" stroke="#3db55a" stroke-width="3.3"/>
<rect x="620.4" y="842.2" width="12.8" height="12.6" fill="#fff" stroke="#3db55a" stroke-width="3.0" stroke-linejoin="round"/>
<rect x="620.4" y="890.6" width="12.8" height="12.6" fill="#fff" stroke="#3db55a" stroke-width="3.0" stroke-linejoin="round"/>
<line x1="700.9" y1="718.7" x2="700.9" y2="724.5" stroke="#3db55a" stroke-width="1.25"/>
<line x1="696.4" y1="718.7" x2="705.4" y2="718.7" stroke="#3db55a" stroke-width="1.25"/>
<line x1="700.9" y1="737.1" x2="700.9" y2="742.9" stroke="#3db55a" stroke-width="1.25"/>
<line x1="696.4" y1="742.9" x2="705.4" y2="742.9" stroke="#3db55a" stroke-width="1.25"/>
<rect x="694.5" y="724.5" width="12.8" height="12.6" fill="#fff" stroke="#3db55a" stroke-width="3.0" stroke-linejoin="round"/>
<line x1="700.9" y1="711" x2="700.9" y2="729.2" stroke="#3db55a" stroke-width="1.25"/>
<line x1="696.4" y1="711" x2="705.4" y2="711" stroke="#3db55a" stroke-width="1.25"/>
<line x1="700.9" y1="741.8" x2="700.9" y2="760.5" stroke="#3db55a" stroke-width="1.25"/>
<line x1="696.4" y1="760.5" x2="705.4" y2="760.5" stroke="#3db55a" stroke-width="1.25"/>
<rect x="694.5" y="729.2" width="12.8" height="12.6" fill="#fff" stroke="#3db55a" stroke-width="3.0" stroke-linejoin="round"/>
<line x1="775" y1="723.7" x2="775" y2="731.6" stroke="#3db55a" stroke-width="1.25"/>
<line x1="770.5" y1="723.7" x2="779.5" y2="723.7" stroke="#3db55a" stroke-width="1.25"/>
<line x1="775" y1="744.2" x2="775" y2="751.7" stroke="#3db55a" stroke-width="1.25"/>
<line x1="770.5" y1="751.7" x2="779.5" y2="751.7" stroke="#3db55a" stroke-width="1.25"/>
<rect x="768.6" y="731.6" width="12.8" height="12.6" fill="#fff" stroke="#3db55a" stroke-width="3.0" stroke-linejoin="round"/>
<line x1="775" y1="752.2" x2="775" y2="763.1" stroke="#3db55a" stroke-width="1.25"/>
<line x1="770.5" y1="752.2" x2="779.5" y2="752.2" stroke="#3db55a" stroke-width="1.25"/>
<line x1="775" y1="775.7" x2="775" y2="785.5" stroke="#3db55a" stroke-width="1.25"/>
<line x1="770.5" y1="785.5" x2="779.5" y2="785.5" stroke="#3db55a" stroke-width="1.25"/>
<rect x="768.6" y="763.1" width="12.8" height="12.6" fill="#fff" stroke="#3db55a" stroke-width="3.0" stroke-linejoin="round"/>
<line x1="811.8" y1="723.7" x2="811.8" y2="732.1" stroke="#3db55a" stroke-width="1.25"/>
<line x1="807.3" y1="723.7" x2="816.3" y2="723.7" stroke="#3db55a" stroke-width="1.25"/>
<line x1="811.8" y1="744.7" x2="811.8" y2="755.2" stroke="#3db55a" stroke-width="1.25"/>
<line x1="807.3" y1="755.2" x2="816.3" y2="755.2" stroke="#3db55a" stroke-width="1.25"/>
<rect x="805.4" y="732.1" width="12.8" height="12.6" fill="#fff" stroke="#3db55a" stroke-width="3.0" stroke-linejoin="round"/>
<line x1="848.5" y1="570.5" x2="848.5" y2="614.3" stroke="#3db55a" stroke-width="1.25"/>
<line x1="844" y1="570.5" x2="853" y2="570.5" stroke="#3db55a" stroke-width="1.25"/>
<line x1="848.5" y1="626.9" x2="848.5" y2="670" stroke="#3db55a" stroke-width="1.25"/>
<line x1="844" y1="670" x2="853" y2="670" stroke="#3db55a" stroke-width="1.25"/>
<rect x="842.1" y="614.3" width="12.8" height="12.6" fill="#fff" stroke="#3db55a" stroke-width="3.0" stroke-linejoin="round"/>
<line x1="885.7" y1="734.8" x2="885.7" y2="743.6" stroke="#3db55a" stroke-width="1.25"/>
<line x1="881.2" y1="734.8" x2="890.2" y2="734.8" stroke="#3db55a" stroke-width="1.25"/>
<line x1="885.7" y1="756.2" x2="885.7" y2="764.9" stroke="#3db55a" stroke-width="1.25"/>
<line x1="881.2" y1="764.9" x2="890.2" y2="764.9" stroke="#3db55a" stroke-width="1.25"/>
<rect x="879.3" y="743.6" width="12.8" height="12.6" fill="#fff" stroke="#3db55a" stroke-width="3.0" stroke-linejoin="round"/>
<line x1="922.3" y1="562.2" x2="922.3" y2="609.6" stroke="#3db55a" stroke-width="1.25"/>
<line x1="917.8" y1="562.2" x2="926.8" y2="562.2" stroke="#3db55a" stroke-width="1.25"/>
<line x1="922.3" y1="622.2" x2="922.3" y2="670" stroke="#3db55a" stroke-width="1.25"/>
<line x1="917.8" y1="670" x2="926.8" y2="670" stroke="#3db55a" stroke-width="1.25"/>
<rect x="915.9" y="609.6" width="12.8" height="12.6" fill="#fff" stroke="#3db55a" stroke-width="3.0" stroke-linejoin="round"/>
<path d="M1096.4,851.95 L1115,851.95 L1107.2,837.35 L1104.2,837.35 Z" fill="#3db55a"/><path d="M1101.1,849.15 L1105.7,840.95 L1110.3,849.15 Z" fill="#fff"/>
<path d="M1096.4,900.4 L1115,900.4 L1107.2,885.8 L1104.2,885.8 Z" fill="#3db55a"/><path d="M1101.1,897.6 L1105.7,889.4 L1110.3,897.6 Z" fill="#fff"/>
<line x1="1123.3" y1="710.1" x2="1123.3" y2="727.7" stroke="#3db55a" stroke-width="1.25"/>
<line x1="1118.8" y1="710.1" x2="1127.8" y2="710.1" stroke="#3db55a" stroke-width="1.25"/>
<line x1="1123.3" y1="737.7" x2="1123.3" y2="757.9" stroke="#3db55a" stroke-width="1.25"/>
<line x1="1118.8" y1="757.9" x2="1127.8" y2="757.9" stroke="#3db55a" stroke-width="1.25"/>
<path d="M1114,739.7 L1132.6,739.7 L1124.8,725.1 L1121.8,725.1 Z" fill="#3db55a"/><path d="M1118.7,736.9 L1123.3,728.7 L1127.9,736.9 Z" fill="#fff"/>
<line x1="1282" y1="562.8" x2="1282" y2="608.55" stroke="#3db55a" stroke-width="1.25"/>
<line x1="1277.5" y1="562.8" x2="1286.5" y2="562.8" stroke="#3db55a" stroke-width="1.25"/>
<line x1="1282" y1="618.55" x2="1282" y2="669.2" stroke="#3db55a" stroke-width="1.25"/>
<line x1="1277.5" y1="669.2" x2="1286.5" y2="669.2" stroke="#3db55a" stroke-width="1.25"/>
<path d="M1272.7,620.55 L1291.3,620.55 L1283.5,605.95 L1280.5,605.95 Z" fill="#3db55a"/><path d="M1277.4,617.75 L1282,609.55 L1286.6,617.75 Z" fill="#fff"/>
<line x1="1353.7" y1="571" x2="1353.7" y2="614.05" stroke="#3db55a" stroke-width="1.25"/>
<line x1="1349.2" y1="571" x2="1358.2" y2="571" stroke="#3db55a" stroke-width="1.25"/>
<line x1="1353.7" y1="624.05" x2="1353.7" y2="669.2" stroke="#3db55a" stroke-width="1.25"/>
<line x1="1349.2" y1="669.2" x2="1358.2" y2="669.2" stroke="#3db55a" stroke-width="1.25"/>
<path d="M1344.4,626.05 L1363,626.05 L1355.2,611.45 L1352.2,611.45 Z" fill="#3db55a"/><path d="M1349.1,623.25 L1353.7,615.05 L1358.3,623.25 Z" fill="#fff"/>
<line x1="1325.8" y1="721.8" x2="1325.8" y2="730.85" stroke="#3db55a" stroke-width="1.25"/>
<line x1="1321.3" y1="721.8" x2="1330.3" y2="721.8" stroke="#3db55a" stroke-width="1.25"/>
<line x1="1325.8" y1="740.85" x2="1325.8" y2="753.1" stroke="#3db55a" stroke-width="1.25"/>
<line x1="1321.3" y1="753.1" x2="1330.3" y2="753.1" stroke="#3db55a" stroke-width="1.25"/>
<path d="M1316.5,742.85 L1335.1,742.85 L1327.3,728.25 L1324.3,728.25 Z" fill="#3db55a"/><path d="M1321.2,740.05 L1325.8,731.85 L1330.4,740.05 Z" fill="#fff"/>
<path d="M1323.3,741.85 L1341.9,741.85 L1334.1,727.25 L1331.1,727.25 Z" fill="#3db55a"/><path d="M1328,739.05 L1332.6,730.85 L1337.2,739.05 Z" fill="#fff"/>
<line x1="1358.7" y1="723.1" x2="1358.7" y2="728.85" stroke="#3db55a" stroke-width="1.25"/>
<line x1="1354.2" y1="723.1" x2="1363.2" y2="723.1" stroke="#3db55a" stroke-width="1.25"/>
<line x1="1358.7" y1="738.85" x2="1358.7" y2="748.9" stroke="#3db55a" stroke-width="1.25"/>
<line x1="1354.2" y1="748.9" x2="1363.2" y2="748.9" stroke="#3db55a" stroke-width="1.25"/>
<path d="M1349.4,740.85 L1368,740.85 L1360.2,726.25 L1357.2,726.25 Z" fill="#3db55a"/><path d="M1354.1,738.05 L1358.7,729.85 L1363.3,738.05 Z" fill="#fff"/>
<line x1="1376.4" y1="717.4" x2="1376.4" y2="722.75" stroke="#3db55a" stroke-width="1.25"/>
<line x1="1371.9" y1="717.4" x2="1380.9" y2="717.4" stroke="#3db55a" stroke-width="1.25"/>
<line x1="1376.4" y1="732.75" x2="1376.4" y2="742.3" stroke="#3db55a" stroke-width="1.25"/>
<line x1="1371.9" y1="742.3" x2="1380.9" y2="742.3" stroke="#3db55a" stroke-width="1.25"/>
<path d="M1367.1,734.75 L1385.7,734.75 L1377.9,720.15 L1374.9,720.15 Z" fill="#3db55a"/><path d="M1371.8,731.95 L1376.4,723.75 L1381,731.95 Z" fill="#fff"/>
<line x1="1341.5" y1="751.9" x2="1341.5" y2="761" stroke="#3db55a" stroke-width="1.25"/>
<line x1="1337" y1="751.9" x2="1346" y2="751.9" stroke="#3db55a" stroke-width="1.25"/>
<line x1="1341.5" y1="771" x2="1341.5" y2="784" stroke="#3db55a" stroke-width="1.25"/>
<line x1="1337" y1="784" x2="1346" y2="784" stroke="#3db55a" stroke-width="1.25"/>
<path d="M1332.2,773 L1350.8,773 L1343,758.4 L1340,758.4 Z" fill="#3db55a"/><path d="M1336.9,770.2 L1341.5,762 L1346.1,770.2 Z" fill="#fff"/>
</svg>
</body></html>
